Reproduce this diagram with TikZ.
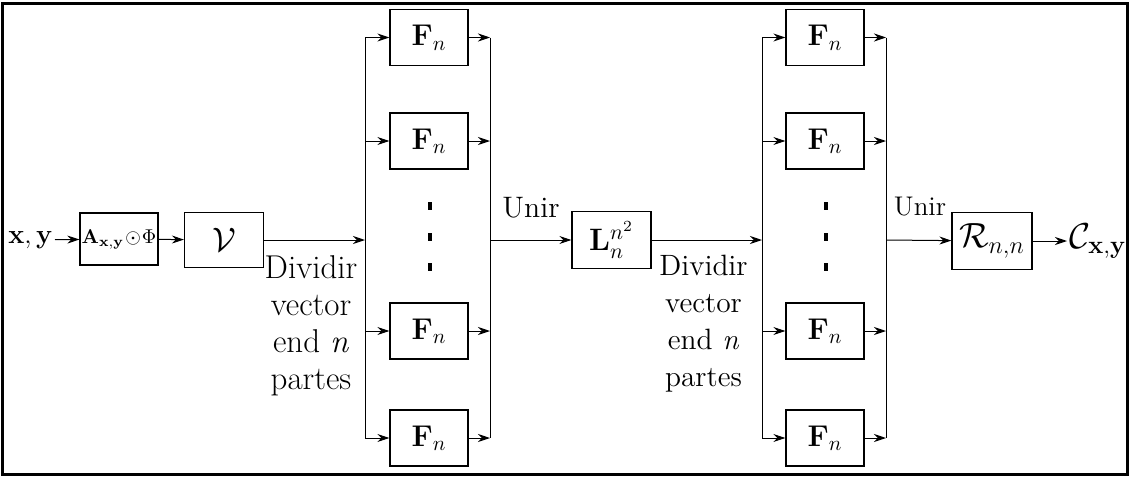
\RequirePackage{fix-cm}
\documentclass[tikz,border=0pt]{standalone}
\usetikzlibrary{arrows.meta}
\begin{document}
\begin{tikzpicture}[x=0.5pt,y=-0.5pt,
  blk/.style={draw,line width=0.6pt,inner sep=0pt,minimum width=39pt,minimum height=28pt,font=\fontsize{15}{18}\selectfont},
  conn/.style={line width=0.5pt},
  arr/.style={conn,-{Stealth[length=6pt,width=4pt]}},
  lblA/.style={font=\fontsize{16.5}{18.5}\selectfont,align=center,inner sep=0pt},
  lblB/.style={font=\fontsize{14.7}{18.5}\selectfont,align=center,inner sep=0pt},
  dotmark/.style={fill,inner sep=0pt,minimum width=2pt,minimum height=4pt}]
\useasboundingbox (0,0) rectangle (1130,477);
\draw[line width=1.5pt] (2.5,3) rectangle (1127,474);
% input chain
\node[anchor=east,inner sep=1pt,font=\fontsize{13.5}{16}\selectfont] (xy) at (55,240) {$\mathbf{x},\mathbf{y}$};
\node[blk,minimum height=26pt] (A) at (119,239) {\fontsize{10}{12}\selectfont$\mathbf{A}_{\mathbf{x},\mathbf{y}}\!\odot\!\Phi$};
\node[blk,minimum width=39.5pt,minimum height=27.5pt] (V) at (224,240) {\fontsize{17}{19}\selectfont$\mathcal{V}$};
\coordinate (s1) at (365,240);
\coordinate (m1) at (490,240);
% group 1
\node[blk] (f11) at (429,37.5) {$\mathbf{F}_n$};
\node[blk] (f12) at (429,141) {$\mathbf{F}_n$};
\node[blk] (f13) at (429,331) {$\mathbf{F}_n$};
\node[blk] (f14) at (429,438) {$\mathbf{F}_n$};
\node[dotmark] (d11) at (430,206) {};
\node[dotmark] (d12) at (430,237) {};
\node[dotmark] (d13) at (430,267) {};
\node[lblA,anchor=north] (t1) at (311,255) {Dividir\\vector\\end \textit{n}\\partes};
\node[font=\fontsize{14.8}{18}\selectfont,anchor=base,inner sep=0pt] (u1) at (531,217) {Unir};
% middle
\node[blk,minimum width=39.5pt,minimum height=28.5pt] (L) at (611.5,240) {\fontsize{15.5}{18}\selectfont$\mathbf{L}_n^{n^2}$};
\coordinate (s2) at (762,240);
\coordinate (m2) at (886,240);
% group 2
\node[blk] (f21) at (825,37.5) {$\mathbf{F}_n$};
\node[blk] (f22) at (825,141) {$\mathbf{F}_n$};
\node[blk] (f23) at (825,331) {$\mathbf{F}_n$};
\node[blk] (f24) at (825,438) {$\mathbf{F}_n$};
\node[dotmark] (d21) at (826,206) {};
\node[dotmark] (d22) at (826,237) {};
\node[dotmark] (d23) at (826,267) {};
\node[lblB,anchor=north] (t2) at (703.5,255) {Dividir\\vector\\end \textit{n}\\partes};
\node[font=\fontsize{13.5}{18}\selectfont,anchor=base,inner sep=0pt] (u2) at (920,215) {Unir};
% output
\node[blk,minimum width=40pt,minimum height=28.5pt] (R) at (992,241) {\fontsize{17.5}{20}\selectfont$\mathcal{R}_{n,n}$};
\node[anchor=west,inner sep=1pt,font=\fontsize{18}{20}\selectfont] (C) at (1067,241) {$\mathcal{C}_{\mathbf{x},\mathbf{y}}$};
% connectors
\draw[arr] (xy) -- (A);
\draw[arr] (A) -- (V);
\draw[arr] (V) -- (s1);
\draw[conn] (s1 |- f11) -- (s1 |- f14);
\draw[conn] (m1 |- f11) -- (m1 |- f14);
\foreach \f in {f11,f12,f13,f14}{
  \draw[arr] (s1 |- \f) -- (\f);
  \draw[arr] (\f) -- (m1 |- \f);
}
\draw[arr] (m1) -- (L);
\draw[arr] (L) -- (s2);
\draw[conn] (s2 |- f21) -- (s2 |- f24);
\draw[conn] (m2 |- f21) -- (m2 |- f24);
\foreach \f in {f21,f22,f23,f24}{
  \draw[arr] (s2 |- \f) -- (\f);
  \draw[arr] (\f) -- (m2 |- \f);
}
\draw[arr] (m2) -- (R);
\draw[arr] (R) -- (C);
\end{tikzpicture}
\end{document}
